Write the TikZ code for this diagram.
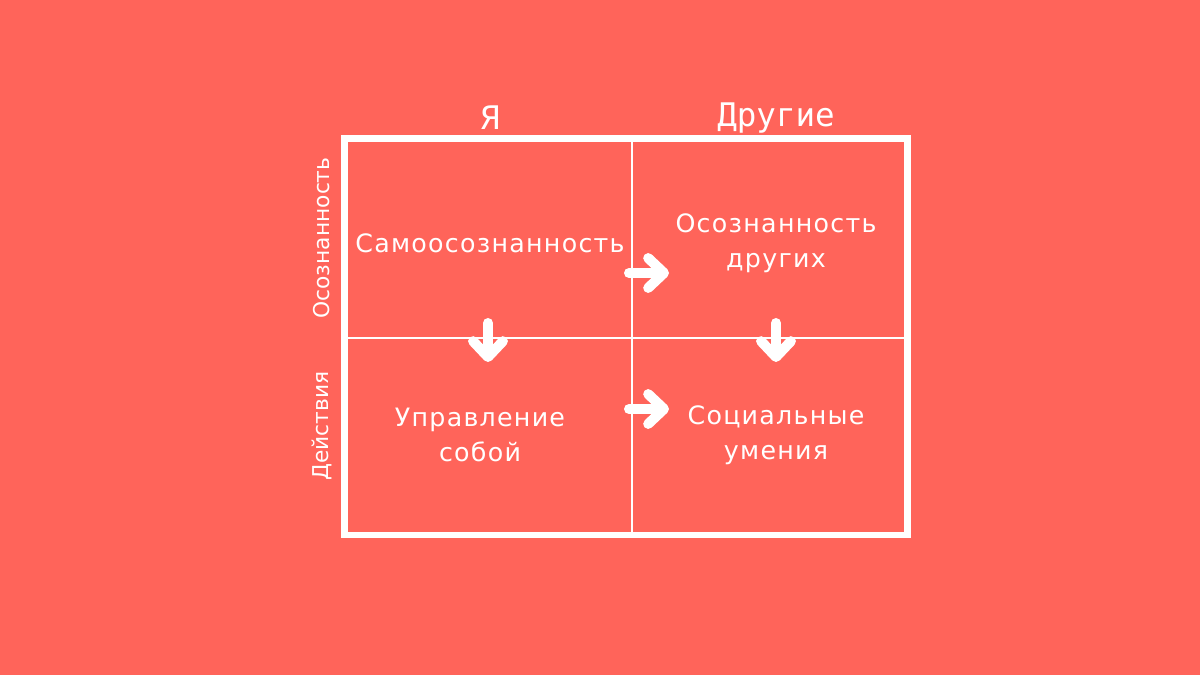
\documentclass[tikz,border=0pt]{standalone}
\usepackage{fontspec}
\newfontfamily\quadFont{DejaVu Sans}[LetterSpace=5]
\newfontfamily\headFont{DejaVu Sans Mono}
\newfontfamily\sideFont{DejaVu Sans}
\usetikzlibrary{arrows.meta}
\definecolor{coralBack}{HTML}{FF645A}

\begin{document}
\begin{tikzpicture}
[x=0.02cm,y=-0.02cm,%
  gridOuter/.style={draw=white,line width=3.7pt},%
  gridInner/.style={draw=white,line width=0.6pt},%
  quadText/.style={text=white,align=center,font=\quadFont\fontsize{14.4}{20}\selectfont},%
  headText/.style={text=white,font=\headFont\fontsize{18.5}{22}\selectfont},%
  sideText/.style={text=white,rotate=90,font=\sideFont\fontsize{12.4}{15}\selectfont},%
  arrowDecorate/.style={draw=white,line width=5.7pt,line cap=round,
    -{Straight Barb[length=9pt,width=17pt,round]}}]
%% background and frame
\fill[coralBack] (0,0) rectangle (1200,675);
\useasboundingbox (0,0) rectangle (1200,675);
\draw[gridOuter] (344.5,138.5) rectangle (907.5,535);
\draw[gridInner] (632,138.5) -- (632,535);
\draw[gridInner] (344.5,338) -- (907.5,338);
%% column and row labels
\node[headText] (me) at (490,118) {Я};
\node[headText] (others) at (776,118) {Другие};
\node[sideText] (aware) at (322,238) {Осознанность};
\node[sideText] (acts) at (322,426) {Действия};
%% quadrant texts
\foreach \nodename/\x/\y/\content in {
  selfAware/490/243/Самоосознанность,
  otherAware/776/243/Осознанность\\других,
  selfManage/480/435/Управление\\собой,
  socialSkill/776/435/Социальные\\умения}
{
  \node[quadText] (\nodename) at (\x,\y) {\content};
}
%% arrow ends
\coordinate (topFrom) at (629,273);
\coordinate (topTo) at (669,273);
\coordinate (botFrom) at (629,409);
\coordinate (botTo) at (669,409);
\coordinate (leftFrom) at (488,323);
\coordinate (leftTo) at (488,362);
\coordinate (rightFrom) at (776,323);
\coordinate (rightTo) at (776,362);
%% connect the quadrants
\foreach \from/\to in {topFrom/topTo, botFrom/botTo, leftFrom/leftTo, rightFrom/rightTo}
  \draw[arrowDecorate] (\from) -- (\to);
\end{tikzpicture}
\end{document}
